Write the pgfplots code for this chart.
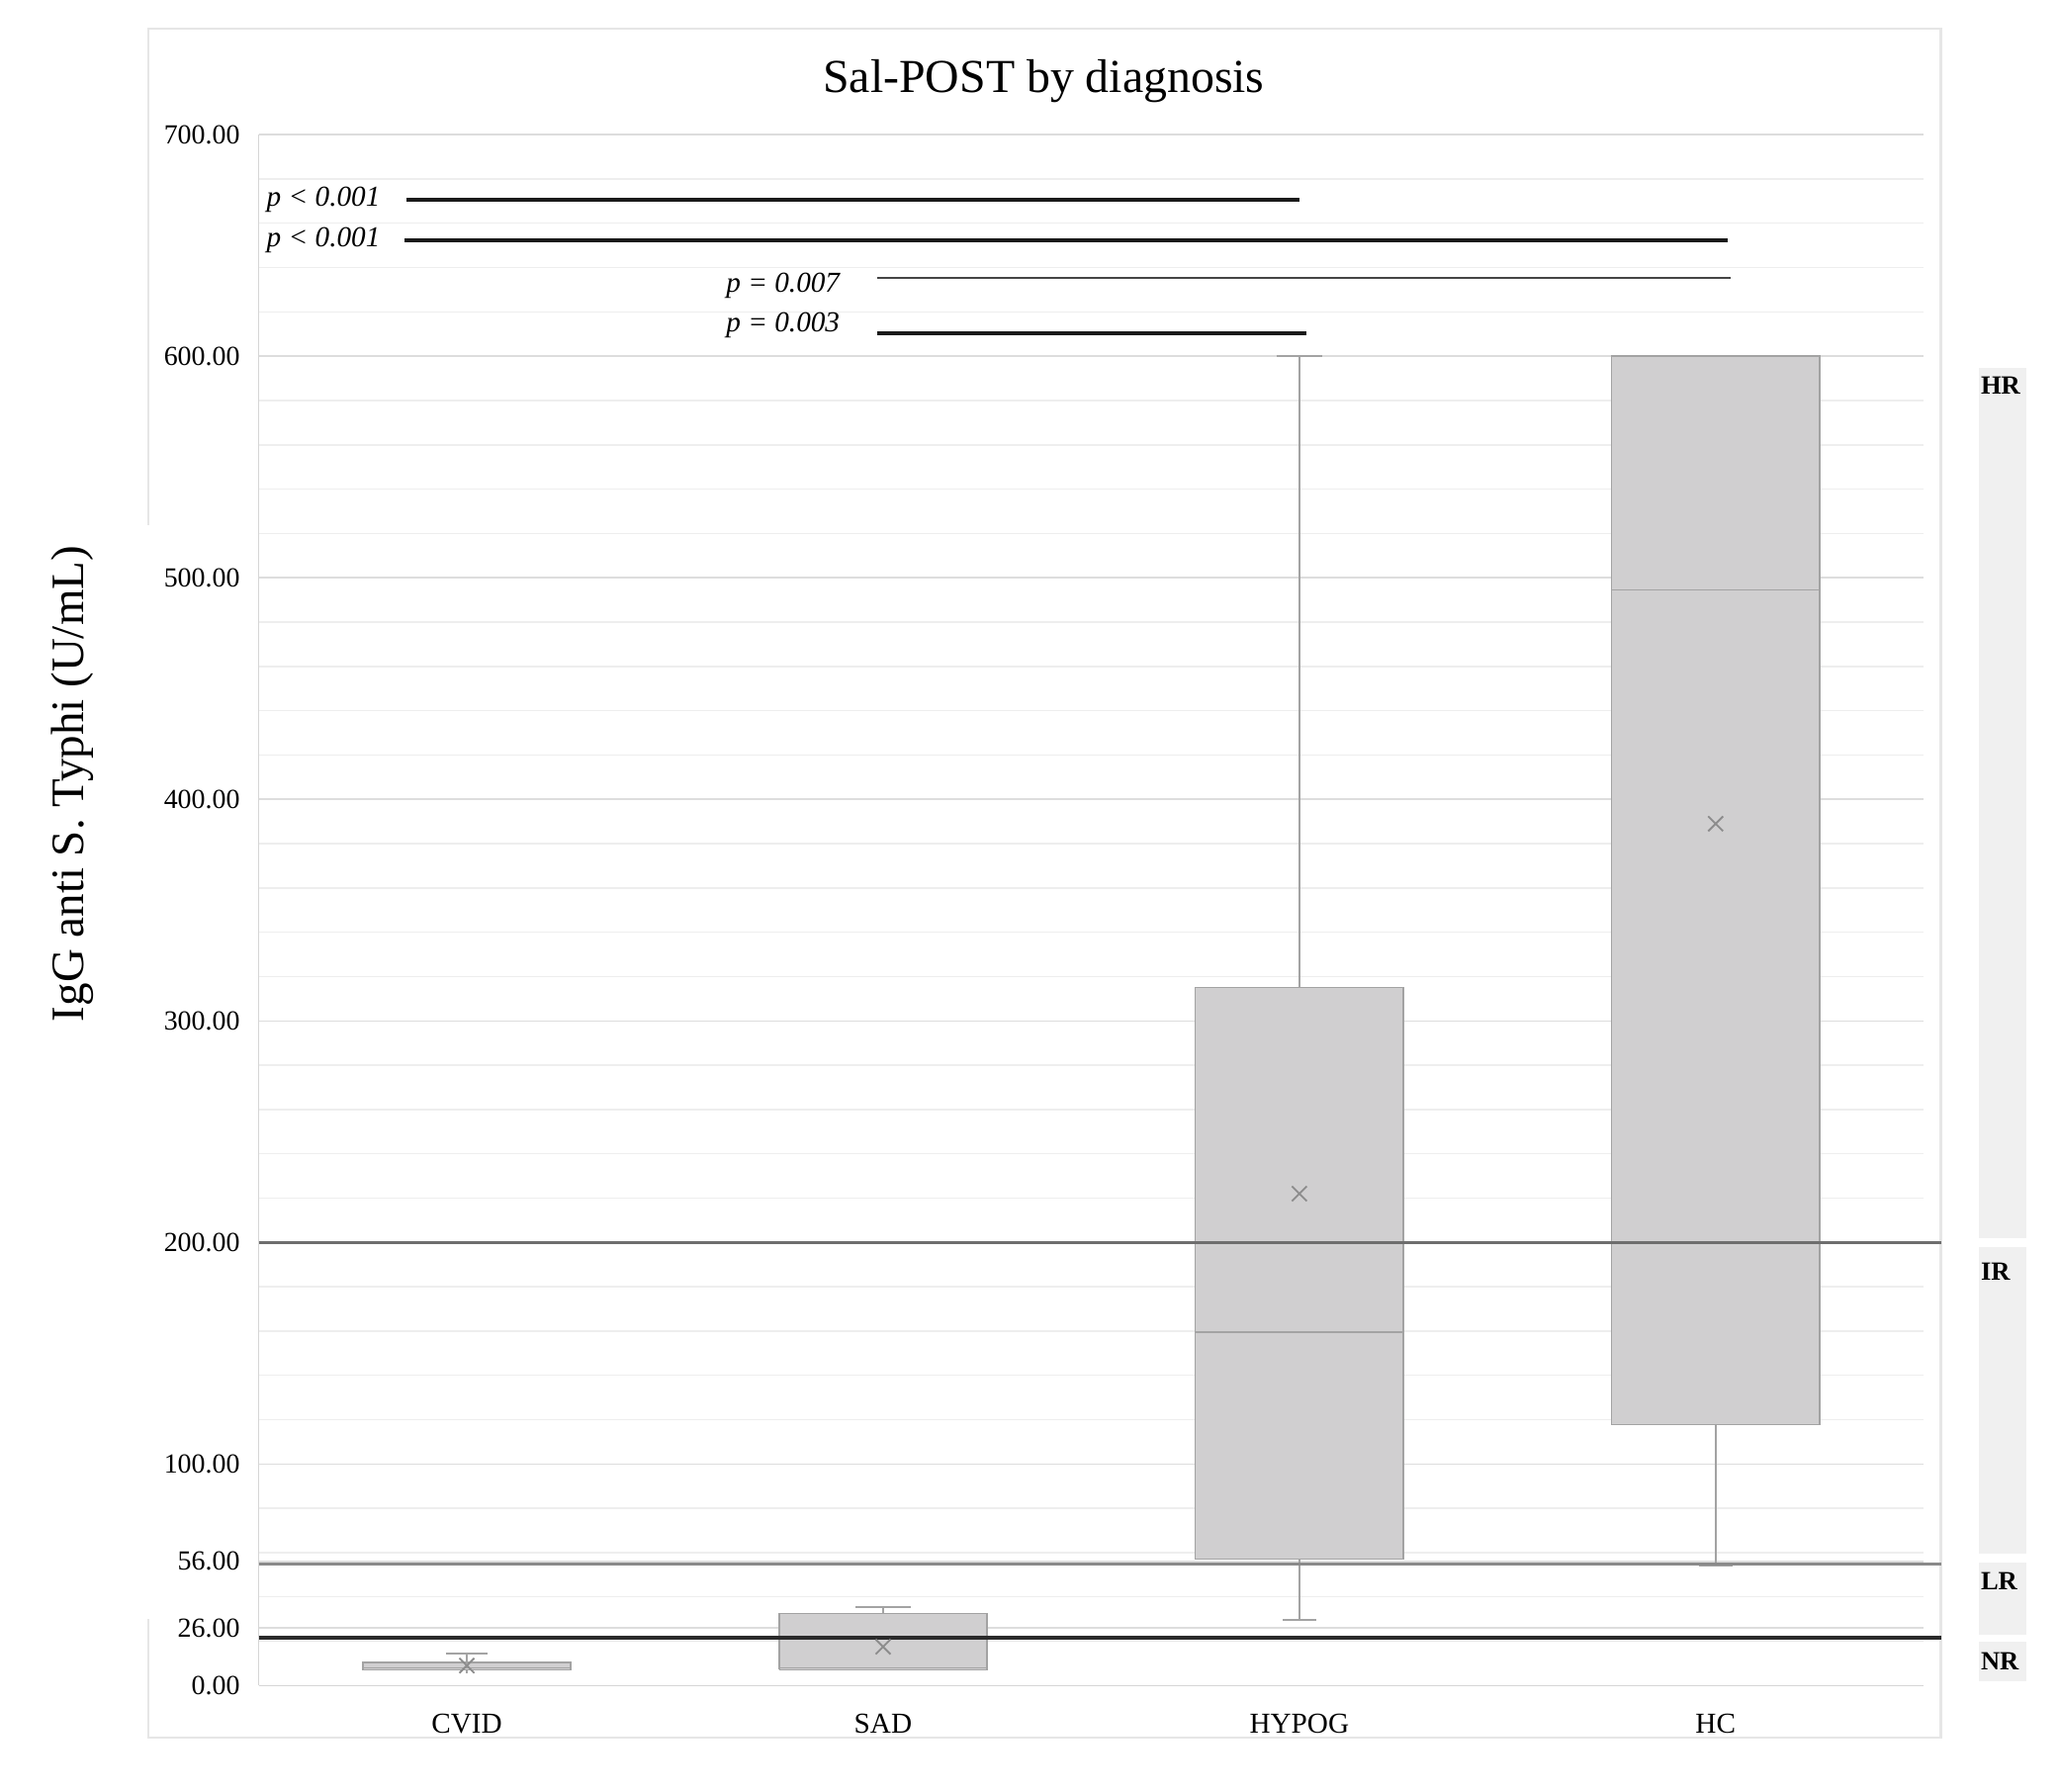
\documentclass[border=0pt]{standalone}
\usepackage{fontspec}
\setmainfont{Liberation Serif}
\usepackage{pgfplots}
\pgfplotsset{compat=1.18}
\definecolor{gridmaj}{HTML}{DDDDDD}
\definecolor{gridmin}{HTML}{EEEEEE}
\definecolor{axisgray}{HTML}{D6D6D6}
\definecolor{boxfill}{HTML}{D0CFD0}
\definecolor{boxedge}{HTML}{A3A3A3}
\definecolor{meangray}{HTML}{8C8C8C}
\definecolor{thrA}{HTML}{6E6E6E}
\definecolor{thrB}{HTML}{8A8A8A}
\definecolor{thrC}{HTML}{2A2A2A}
\definecolor{bandgray}{HTML}{F0F0F0}
\definecolor{framegray}{HTML}{E6E6E6}
\definecolor{sigblack}{HTML}{1A1A1A}
\definecolor{sigthin}{HTML}{454545}
\begin{document}
\begin{tikzpicture}
\useasboundingbox (-98.5pt,-40.2pt) rectangle (685.5pt,641.8pt);
\begin{axis}[
  at={(0pt,0pt)}, anchor=south west,
  scale only axis, width=634pt, height=590.5pt,
  xmin=0.5, xmax=4.5, ymin=0, ymax=700,
  xtick={1,2,3,4}, xticklabels={CVID,SAD,HYPOG,HC},
  ytick={0,26,56,100,200,300,400,500,600,700},
  yticklabels={0.00,26.00,56.00,100.00,200.00,300.00,400.00,500.00,600.00,700.00},
  minor ytick={20,40,60,80,120,140,160,180,220,240,260,280,320,340,360,380,420,440,460,480,520,540,560,580,620,640,660,680},
  ymajorgrids, yminorgrids,
  major grid style={draw=gridmaj, line width=0.6pt},
  minor grid style={draw=gridmin, line width=0.5pt},
  major tick length=0pt, minor tick length=0pt,
  axis x line*=bottom, axis y line*=left,
  axis line style={-, draw=axisgray, line width=0.6pt},
  yticklabel style={font=\fontsize{10.5}{12}\selectfont, inner sep=0pt, xshift=-7pt},
  xticklabel style={font=\fontsize{11}{13}\selectfont, inner sep=0pt, yshift=-10.5pt},
  clip=false,
  /pgf/number format/assume math mode=true,
  boxs/.style={draw=boxedge, fill=boxfill, line width=0.6pt, mark=none},
  whs/.style={draw=boxedge, line width=0.6pt, mark=none},
]
% frame
\draw[framegray, line width=0.8pt] (axis cs:0.235,523.8) -- (axis cs:0.235,748) -- (axis cs:4.541,748) -- (axis cs:4.541,-23.4) -- (axis cs:0.235,-23.4) -- (axis cs:0.235,30);
% bands
\fill[bandgray] (axis cs:4.633,201.8) rectangle (axis cs:4.746,594.8);
\fill[bandgray] (axis cs:4.633,59.6) rectangle (axis cs:4.746,197.7);
\fill[bandgray] (axis cs:4.633,22.8) rectangle (axis cs:4.746,55.4);
\fill[bandgray] (axis cs:4.633,2.1) rectangle (axis cs:4.746,19.8);

% CVID: lw 5.5, q1 7, med 8, q3 10.5, uw 14.5
\addplot[whs] coordinates {(1,10.5) (1,14.5)};
\addplot[whs] coordinates {(0.95,14.5) (1.05,14.5)};
\addplot[whs] coordinates {(1,7) (1,5.5)};
\addplot[boxs] coordinates {(0.75,7) (1.25,7) (1.25,10.5) (0.75,10.5) (0.75,7)};
\addplot[whs] coordinates {(0.75,8) (1.25,8)};
% SAD: lw 7, q1 7.1, med 7.9, q3 32.6, uw 35.3
\addplot[whs] coordinates {(2,32.6) (2,35.3)};
\addplot[whs] coordinates {(1.933,35.3) (2.067,35.3)};
\addplot[boxs] coordinates {(1.75,7.1) (2.25,7.1) (2.25,32.6) (1.75,32.6) (1.75,7.1)};
\addplot[whs] coordinates {(1.75,7.9) (2.25,7.9)};
% HYPOG: lw 29.5, q1 57, med 159.5, q3 315, uw 600
\addplot[whs] coordinates {(3,315) (3,600)};
\addplot[whs] coordinates {(2.945,600) (3.055,600)};
\addplot[whs] coordinates {(3,57) (3,29.5)};
\addplot[whs] coordinates {(2.96,29.5) (3.04,29.5)};
\addplot[boxs] coordinates {(2.75,57) (3.25,57) (3.25,315) (2.75,315) (2.75,57)};
\addplot[whs] coordinates {(2.75,159.5) (3.25,159.5)};
% HC: lw 54, q1 117.7, med 494.5, q3 600, uw 600
\addplot[whs] coordinates {(4,117.7) (4,54)};
\addplot[whs] coordinates {(3.96,54) (4.04,54)};
\addplot[boxs] coordinates {(3.75,117.7) (4.25,117.7) (4.25,600) (3.75,600) (3.75,117.7)};
\addplot[whs] coordinates {(3.75,494.5) (4.25,494.5)};
% means
\addplot[only marks, mark=x, mark size=4pt, mark options={draw=meangray, line width=0.7pt}] coordinates {(1,9) (2,17.5) (3,222) (4,389)};

% thresholds
\draw[thrA, line width=1.2pt] (axis cs:0.5,200) -- (axis cs:4.541,200);
\draw[thrB, line width=1.2pt] (axis cs:0.5,55) -- (axis cs:4.541,55);
\draw[thrC, line width=1.5pt] (axis cs:0.5,21.8) -- (axis cs:4.541,21.8);

% significance
\draw[sigblack, line width=1.5pt] (axis cs:0.856,670.8) -- (axis cs:3.0,670.8);
\draw[sigblack, line width=1.5pt] (axis cs:0.85,652.4) -- (axis cs:4.03,652.4);
\draw[sigthin, line width=0.8pt] (axis cs:1.986,635.2) -- (axis cs:4.036,635.2);
\draw[sigblack, line width=1.5pt] (axis cs:1.986,610.3) -- (axis cs:3.017,610.3);
\node[anchor=east, inner sep=0pt, font=\fontsize{11}{13}\selectfont\itshape] at (axis cs:0.793,670.8) {p < 0.001};
\node[anchor=east, inner sep=0pt, font=\fontsize{11}{13}\selectfont\itshape] at (axis cs:0.793,652.4) {p < 0.001};
\node[anchor=east, inner sep=0pt, font=\fontsize{11}{13}\selectfont\itshape] at (axis cs:1.897,632) {p = 0.007};
\node[anchor=east, inner sep=0pt, font=\fontsize{11}{13}\selectfont\itshape] at (axis cs:1.897,614) {p = 0.003};

% band labels
\node[anchor=west, inner sep=0pt, font=\fontsize{10}{12}\selectfont\bfseries] at (axis cs:4.636,586.7) {HR};
\node[anchor=west, inner sep=0pt, font=\fontsize{10}{12}\selectfont\bfseries] at (axis cs:4.636,187) {IR};
\node[anchor=west, inner sep=0pt, font=\fontsize{10}{12}\selectfont\bfseries] at (axis cs:4.636,47.2) {LR};
\node[anchor=west, inner sep=0pt, font=\fontsize{10}{12}\selectfont\bfseries] at (axis cs:4.636,10.9) {NR};

% title and y label
\node[font=\fontsize{18}{21}\selectfont] at (axis cs:2.386,724) {Sal-POST by diagnosis};
\node[rotate=90, font=\fontsize{17.7}{20}\selectfont] at (axis cs:0.052,407) {IgG anti S. Typhi (U/mL)};
\end{axis}
\end{tikzpicture}
\end{document}
